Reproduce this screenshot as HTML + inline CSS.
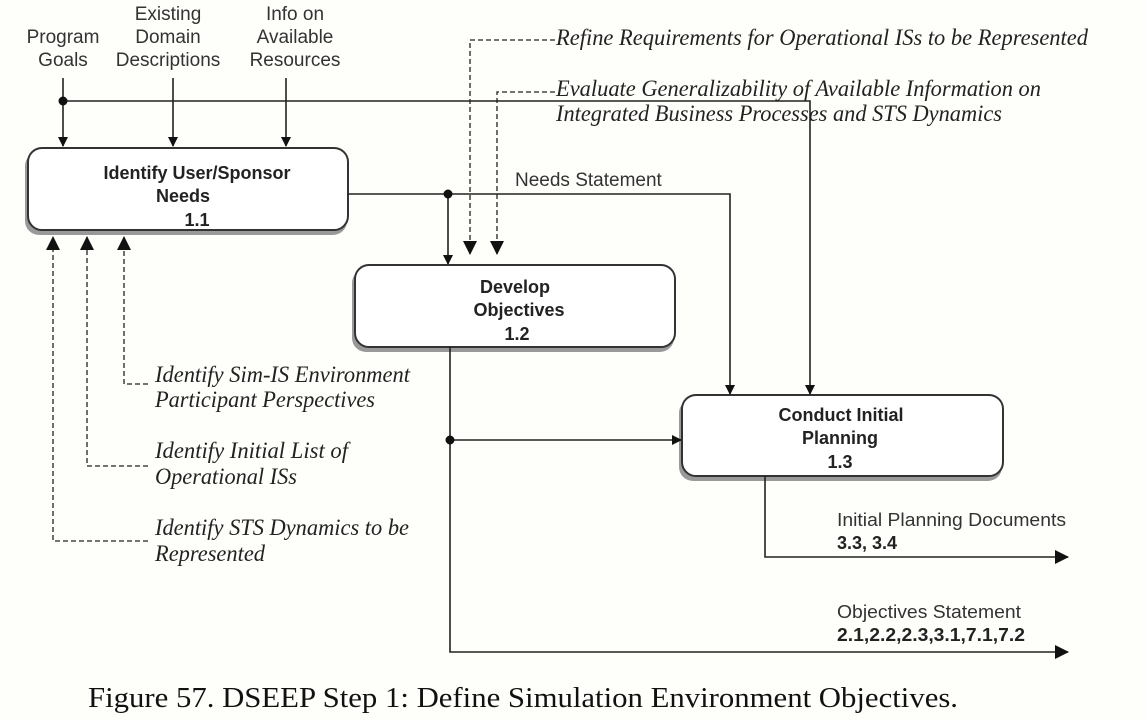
<!DOCTYPE html>
<html><head><meta charset="utf-8"><style>
html,body{margin:0;padding:0;background:#fefefb;}
svg{display:block}
.s{font-family:"Liberation Sans",sans-serif;font-size:19px;fill:#333}
.b{font-family:"Liberation Sans",sans-serif;font-size:18px;font-weight:bold;fill:#222}
.i{font-family:"Liberation Serif",serif;font-style:italic;font-size:23px;fill:#222}
</style></head><body>
<svg width="1146" height="720" viewBox="0 0 1146 720" xmlns="http://www.w3.org/2000/svg">
<defs>
<marker id="a" markerWidth="10" markerHeight="10" refX="9" refY="5" orient="auto" markerUnits="userSpaceOnUse"><path d="M0,0 L10,5 L0,10 z" fill="#111"/></marker>
<marker id="A" markerWidth="14" markerHeight="14" refX="13" refY="7" orient="auto" markerUnits="userSpaceOnUse"><path d="M0,0 L14,7 L0,14 z" fill="#111"/></marker>
</defs>
<g fill="#999">
<rect x="25" y="152" width="322" height="83" rx="14"/>
<rect x="352" y="269" width="322" height="83" rx="14"/>
<rect x="679" y="399" width="323" height="82" rx="14"/>
</g>
<g fill="#fff" stroke="#333" stroke-width="2">
<rect x="28" y="148" width="320" height="82" rx="14"/>
<rect x="355" y="265" width="320" height="82" rx="14"/>
<rect x="682" y="395" width="321" height="81" rx="14"/>
</g>
<g stroke="#222" stroke-width="1.6" fill="none">
<path d="M63,78 V146" marker-end="url(#a)"/>
<path d="M173,78 V146" marker-end="url(#a)"/>
<path d="M286,78 V146" marker-end="url(#a)"/>
<path d="M63,101 H810 V394" marker-end="url(#a)"/>
<path d="M348,194 H730 V394" marker-end="url(#a)"/>
<path d="M448,194 V264" marker-end="url(#a)"/>
<path d="M450,347 V652 H1068" marker-end="url(#A)"/>
<path d="M450,440 H681" marker-end="url(#a)"/>
<path d="M765,476 V557 H1068" marker-end="url(#A)"/>
</g>
<g stroke="#222" stroke-width="1.3" fill="none" stroke-dasharray="5,3">
<path d="M555,40 H470 V254" marker-end="url(#A)"/>
<path d="M555,92 H497 V254" marker-end="url(#A)"/>
<path d="M148,384 H124 V237" marker-end="url(#A)"/>
<path d="M148,466 H87 V237" marker-end="url(#A)"/>
<path d="M148,541 H53 V237" marker-end="url(#A)"/>
</g>
<g fill="#111"><circle cx="63" cy="101" r="4.5"/><circle cx="448" cy="194" r="4.5"/><circle cx="450" cy="440" r="4.5"/></g>
<g class="s" text-anchor="middle">
<text x="63" y="43">Program</text><text x="63" y="66">Goals</text>
<text x="168" y="20">Existing</text><text x="168" y="43">Domain</text><text x="168" y="66">Descriptions</text>
<text x="295" y="20">Info on</text><text x="295" y="43">Available</text><text x="295" y="66">Resources</text>
</g>
<g class="s">
<text x="515" y="186">Needs Statement</text>
<text x="837" y="526" style="font-size:18px" textLength="229" lengthAdjust="spacingAndGlyphs">Initial Planning Documents</text>
<text x="837" y="618" style="font-size:18px" textLength="184" lengthAdjust="spacingAndGlyphs">Objectives Statement</text>
</g>
<g class="b">
<text x="837" y="549">3.3, 3.4</text>
<text x="837" y="641" textLength="188" lengthAdjust="spacingAndGlyphs">2.1,2.2,2.3,3.1,7.1,7.2</text>
</g>
<g class="b" text-anchor="middle">
<text x="197" y="179">Identify User/Sponsor</text><text x="183" y="202">Needs</text><text x="197" y="226">1.1</text>
<text x="515" y="293">Develop</text><text x="519" y="316">Objectives</text><text x="517" y="340">1.2</text>
<text x="841" y="421">Conduct Initial</text><text x="840" y="444">Planning</text><text x="840" y="468">1.3</text>
</g>
<g class="i">
<text x="556" y="45" textLength="532" lengthAdjust="spacingAndGlyphs">Refine Requirements for Operational ISs to be Represented</text>
<text x="556" y="96" textLength="485" lengthAdjust="spacingAndGlyphs">Evaluate Generalizability of Available Information on</text>
<text x="556" y="121" textLength="446" lengthAdjust="spacingAndGlyphs">Integrated Business Processes and STS Dynamics</text>
<text x="155" y="382" textLength="255" lengthAdjust="spacingAndGlyphs">Identify Sim-IS Environment</text>
<text x="155" y="407" textLength="220" lengthAdjust="spacingAndGlyphs">Participant Perspectives</text>
<text x="155" y="458" textLength="193" lengthAdjust="spacingAndGlyphs">Identify Initial List of</text>
<text x="155" y="484" textLength="142" lengthAdjust="spacingAndGlyphs">Operational ISs</text>
<text x="155" y="535" textLength="254" lengthAdjust="spacingAndGlyphs">Identify STS Dynamics to be</text>
<text x="155" y="561" textLength="110" lengthAdjust="spacingAndGlyphs">Represented</text>
</g>
<text x="88" y="707" textLength="870" lengthAdjust="spacingAndGlyphs" style="font-family:'Liberation Serif',serif;font-size:29px;fill:#111">Figure 57.   DSEEP Step 1: Define Simulation Environment Objectives.</text>
</svg>
</body></html>
